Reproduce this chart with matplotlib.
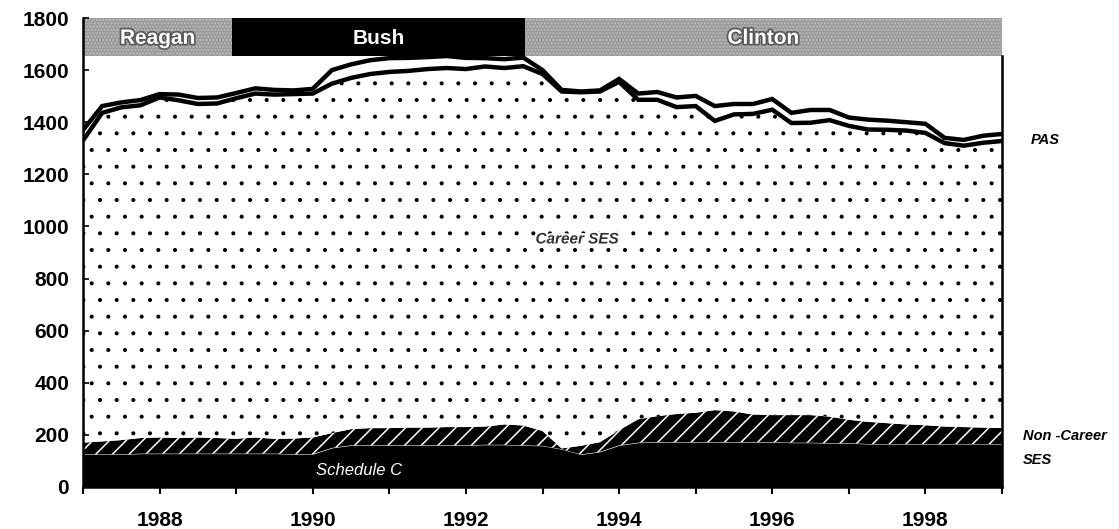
import numpy as np
import matplotlib
matplotlib.use("Agg")
import matplotlib.pyplot as plt
import matplotlib.patheffects as pe
import matplotlib.hatch as mhatch

plt.rcParams['font.family'] = ['Liberation Sans', 'DejaVu Sans']
# smaller stipple dots for the Career SES texture
mhatch.SmallFilledCircles.size = 0.075

# ---- data (quarterly, 1987.0 .. 1999.0) ----
years = [1987 + 0.25 * i for i in range(49)]

schedule_c = [125, 125, 125, 128, 128, 128, 128, 128, 128, 128, 128, 126, 126,
              150, 160, 160, 160, 160, 160, 160, 160, 162, 162, 160,
              158, 145, 125, 135, 160, 170, 172, 172, 172, 172, 172, 172,
              172, 170, 170, 168, 168, 165, 165, 165, 165, 165, 165, 165, 165]
non_career_top = [170, 175, 180, 188, 190, 188, 190, 188, 185, 190, 185, 186, 190,
                  207, 222, 226, 226, 228, 228, 230, 230, 232, 240, 236,
                  215, 148, 158, 172, 218, 260, 272, 280, 285, 295, 290, 278,
                  276, 276, 276, 270, 258, 250, 245, 240, 237, 232, 230, 228, 226]
career_top = [1330, 1436, 1457, 1465, 1495, 1484, 1470, 1472, 1492, 1510, 1506, 1508, 1510,
              1548, 1570, 1585, 1593, 1597, 1604, 1608, 1604, 1614, 1608, 1615,
              1585, 1518, 1515, 1518, 1555, 1486, 1486, 1458, 1462, 1405, 1430, 1432,
              1448, 1397, 1398, 1408, 1386, 1372, 1371, 1368, 1359, 1320, 1310, 1321, 1328]
total_top = [1370, 1462, 1476, 1485, 1508, 1506, 1493, 1495, 1512, 1530, 1524, 1522, 1528,
             1600, 1622, 1638, 1646, 1647, 1650, 1654, 1647, 1646, 1642, 1648,
             1600, 1524, 1518, 1522, 1566, 1510, 1516, 1495, 1501, 1462, 1470, 1470,
             1489, 1436, 1447, 1447, 1418, 1410, 1406, 1400, 1394, 1340, 1332, 1348, 1355]

# components
non_career = [n - s for n, s in zip(non_career_top, schedule_c)]
career = [c - n for c, n in zip(career_top, non_career_top)]
pas = [t - c for t, c in zip(total_top, career_top)]

presidents = ["Reagan", "Bush", "Clinton"]
terms = [(1987.0, 1988.95), (1988.95, 1992.77), (1992.77, 1999.0)]

year_ticks = list(range(1987, 2000))
year_labels = ["1988", "1990", "1992", "1994", "1996", "1998"]
y_ticks = list(range(0, 2000, 200))

# ---- figure ----
fig = plt.figure(figsize=(11.19, 5.29), dpi=100)
ax = fig.add_axes([83 / 1119, 1 - 487 / 529, (1002 - 83) / 1119, (487 - 18) / 529])

x = np.array(years)
s = np.array(schedule_c)
n = s + np.array(non_career)
c = n + np.array(career)
t = c + np.array(pas)

plt.rcParams['hatch.linewidth'] = 1.1
ax.fill_between(x, 0, s, facecolor='black', edgecolor='black', linewidth=0)
ax.fill_between(x, s, n, facecolor='black', edgecolor='white', hatch='//', linewidth=0)
ax.fill_between(x, n, c, facecolor='white', edgecolor='black', hatch='.', linewidth=0)
ax.fill_between(x, c, t, facecolor='white', linewidth=0)
ax.plot(x, c, color='black', lw=3.2, solid_joinstyle='miter')
ax.plot(x, t, color='black', lw=3.2, solid_joinstyle='miter')

# presidential band
band_lo, band_hi = 1655, 1800
band_styles = [dict(facecolor='#9a9a9a', edgecolor='#c4c4c4', hatch='.....'),
               dict(facecolor='black', edgecolor='black', hatch=None),
               dict(facecolor='#9a9a9a', edgecolor='#c4c4c4', hatch='.....')]
for name, (x0, x1), st in zip(presidents, terms, band_styles):
    ax.fill_between([x0, x1], band_lo, band_hi, linewidth=0, **st)
    txt = ax.text((x0 + x1) / 2, 1722, name, color='white', fontsize=15,
                  ha='center', va='center', fontweight='bold')
    if name != 'Bush':
        txt.set_path_effects([pe.withStroke(linewidth=2.5, foreground='#5a5a5a')])

ax.set_xlim(1987, 1999)
ax.set_ylim(0, 1800)
ax.set_xticks(year_ticks)
ax.set_xticklabels(["" if str(yv) not in year_labels else str(yv) for yv in year_ticks])
ax.set_yticks(y_ticks)
ax.set_yticklabels([str(v) for v in y_ticks])
ax.tick_params(axis='y', direction='in', length=4, width=1.2, labelsize=15, pad=10)
ax.tick_params(axis='x', direction='out', length=5, width=1.5, labelsize=15, pad=12)
for lab in ax.get_xticklabels() + ax.get_yticklabels():
    lab.set_fontweight('bold')

ax.spines['top'].set_visible(False)
ax.spines['right'].set_bounds(0, band_lo)
for sp in ['left', 'right', 'bottom']:
    ax.spines[sp].set_linewidth(1.8)

# annotations
ax.text(1993.45, 950, "Career SES", fontsize=11, style='italic', fontweight='bold',
        ha='center', va='center', color='#333333',
        path_effects=[pe.withStroke(linewidth=3, foreground='white')])
ax.text(1990.6, 65, "Schedule C", fontsize=12, style='italic', color='white',
        ha='center', va='center')
ax.text(1999.38, 1330, "PAS", fontsize=10.5, style='italic', fontweight='bold',
        ha='left', va='center', clip_on=False)
ax.text(1999.27, 195, "Non -Career", fontsize=10.5, style='italic', fontweight='bold',
        ha='left', va='center', clip_on=False)
ax.text(1999.27, 105, "SES", fontsize=10.5, style='italic', fontweight='bold',
        ha='left', va='center', clip_on=False)

fig.savefig("out.png", dpi=100)
